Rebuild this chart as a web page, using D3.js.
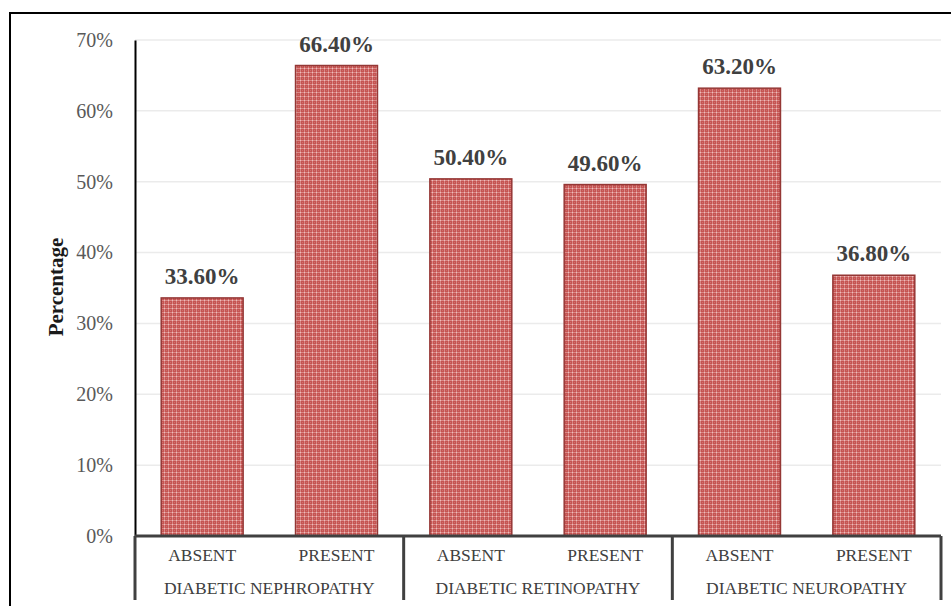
<!DOCTYPE html>
<html>
<head>
<meta charset="utf-8">
<script src="https://cdn.jsdelivr.net/npm/d3@7"></script>
<style>
  html, body { margin: 0; padding: 0; background: #fff; }
  svg { display: block; font-family: "Liberation Serif", "Times New Roman", serif; }
</style>
</head>
<body>
<svg id="chart" width="951" height="606"></svg>
<script>
// Complication status among diabetic patients
const groups = ["DIABETIC NEPHROPATHY", "DIABETIC RETINOPATHY", "DIABETIC NEUROPATHY"];
const statuses = ["ABSENT", "PRESENT"];
const values = [33.6, 66.4, 50.4, 49.6, 63.2, 36.8];
const yTicks = [0, 10, 20, 30, 40, 50, 60, 70];

const bars = [];
groups.forEach((g, gi) => statuses.forEach((s, si) => {
  bars.push({ key: g + "|" + s, group: g, status: s, value: values[gi * statuses.length + si] });
}));

const svg = d3.select("#chart");
const plotL = 135, plotR = 941, plotT = 40, plotB = 536;

// Outer frame
svg.append("rect")
  .attr("x", 10).attr("y", 13).attr("width", 960).attr("height", 620)
  .attr("fill", "none").attr("stroke", "#000").attr("stroke-width", 2);

// Hatched fill for bars
const defs = svg.append("defs");
const pat = defs.append("pattern")
  .attr("id", "hatch").attr("patternUnits", "userSpaceOnUse")
  .attr("width", 4).attr("height", 4);
pat.append("rect").attr("width", 4).attr("height", 4).attr("fill", "#c55452");
pat.append("rect").attr("x", 0).attr("y", 0).attr("width", 4).attr("height", 1).attr("fill", "#d98886");
pat.append("rect").attr("x", 0).attr("y", 0).attr("width", 1).attr("height", 4).attr("fill", "#d98886");
pat.append("rect").attr("x", 0).attr("y", 0).attr("width", 1).attr("height", 1).attr("fill", "#eebdbc");
pat.append("rect").attr("x", 2).attr("y", 2).attr("width", 1).attr("height", 1).attr("fill", "#cf6e6c");

const x = d3.scaleBand().domain(bars.map(d => d.key)).range([plotL, plotR]).paddingInner(0.39).paddingOuter(0.195);
const y = d3.scaleLinear().domain([0, 70]).range([plotB, plotT]);

// Gridlines
svg.append("g").selectAll("line").data(yTicks.filter(t => t > 0)).join("line")
  .attr("x1", plotL).attr("x2", plotR)
  .attr("y1", d => y(d)).attr("y2", d => y(d))
  .attr("stroke", "#ebebeb").attr("stroke-width", 1.5);

// Y axis
const yAxis = svg.append("g").attr("transform", `translate(${plotL},0)`)
  .call(d3.axisLeft(y).tickValues(yTicks).tickFormat(d => d + "%").tickSize(0).tickPadding(22));
yAxis.select(".domain").attr("stroke", "#000").attr("stroke-width", 2);
yAxis.selectAll("text").attr("font-size", 20).attr("fill", "#595959")
  .attr("font-family", "Liberation Serif, serif");

// Y title
svg.append("text")
  .attr("transform", "translate(63,287) rotate(-90)")
  .attr("text-anchor", "middle")
  .attr("font-size", 21).attr("font-weight", "bold").attr("fill", "#1a1a1a")
  .text("Percentage");

// Bars
svg.append("g").selectAll("rect").data(bars).join("rect")
  .attr("x", d => x(d.key)).attr("width", x.bandwidth())
  .attr("y", d => y(d.value)).attr("height", d => y(0) - y(d.value))
  .attr("fill", "url(#hatch)").attr("stroke", "#953735").attr("stroke-width", 1.5);

// Value labels
svg.append("g").selectAll("text").data(bars).join("text")
  .attr("x", d => x(d.key) + x.bandwidth() / 2)
  .attr("y", d => y(d.value) - 14)
  .attr("text-anchor", "middle")
  .attr("font-size", 23).attr("font-weight", "bold").attr("fill", "#404040")
  .text(d => d.value.toFixed(2) + "%");

// Category axis (two-level)
const catW = (plotR - plotL) / bars.length;
const axisG = svg.append("g");
axisG.append("line").attr("x1", plotL).attr("x2", plotR).attr("y1", plotB).attr("y2", plotB)
  .attr("stroke", "#404040").attr("stroke-width", 3);
d3.range(groups.length + 1).forEach(i => {
  const gx = plotL + i * catW * statuses.length;
  axisG.append("line").attr("x1", gx).attr("x2", gx).attr("y1", plotB).attr("y2", 600)
    .attr("stroke", "#404040").attr("stroke-width", 3);
});
axisG.selectAll("text.status").data(bars).join("text").attr("class", "status")
  .attr("x", d => x(d.key) + x.bandwidth() / 2).attr("y", 561)
  .attr("text-anchor", "middle").attr("font-size", 17.5).attr("fill", "#404040")
  .text(d => d.status);
axisG.selectAll("text.group").data(groups).join("text").attr("class", "group")
  .attr("x", (d, i) => plotL + (i + 0.5) * catW * statuses.length).attr("y", 594)
  .attr("text-anchor", "middle").attr("font-size", 17.5).attr("fill", "#404040")
  .text(d => d);
</script>
</body>
</html>
